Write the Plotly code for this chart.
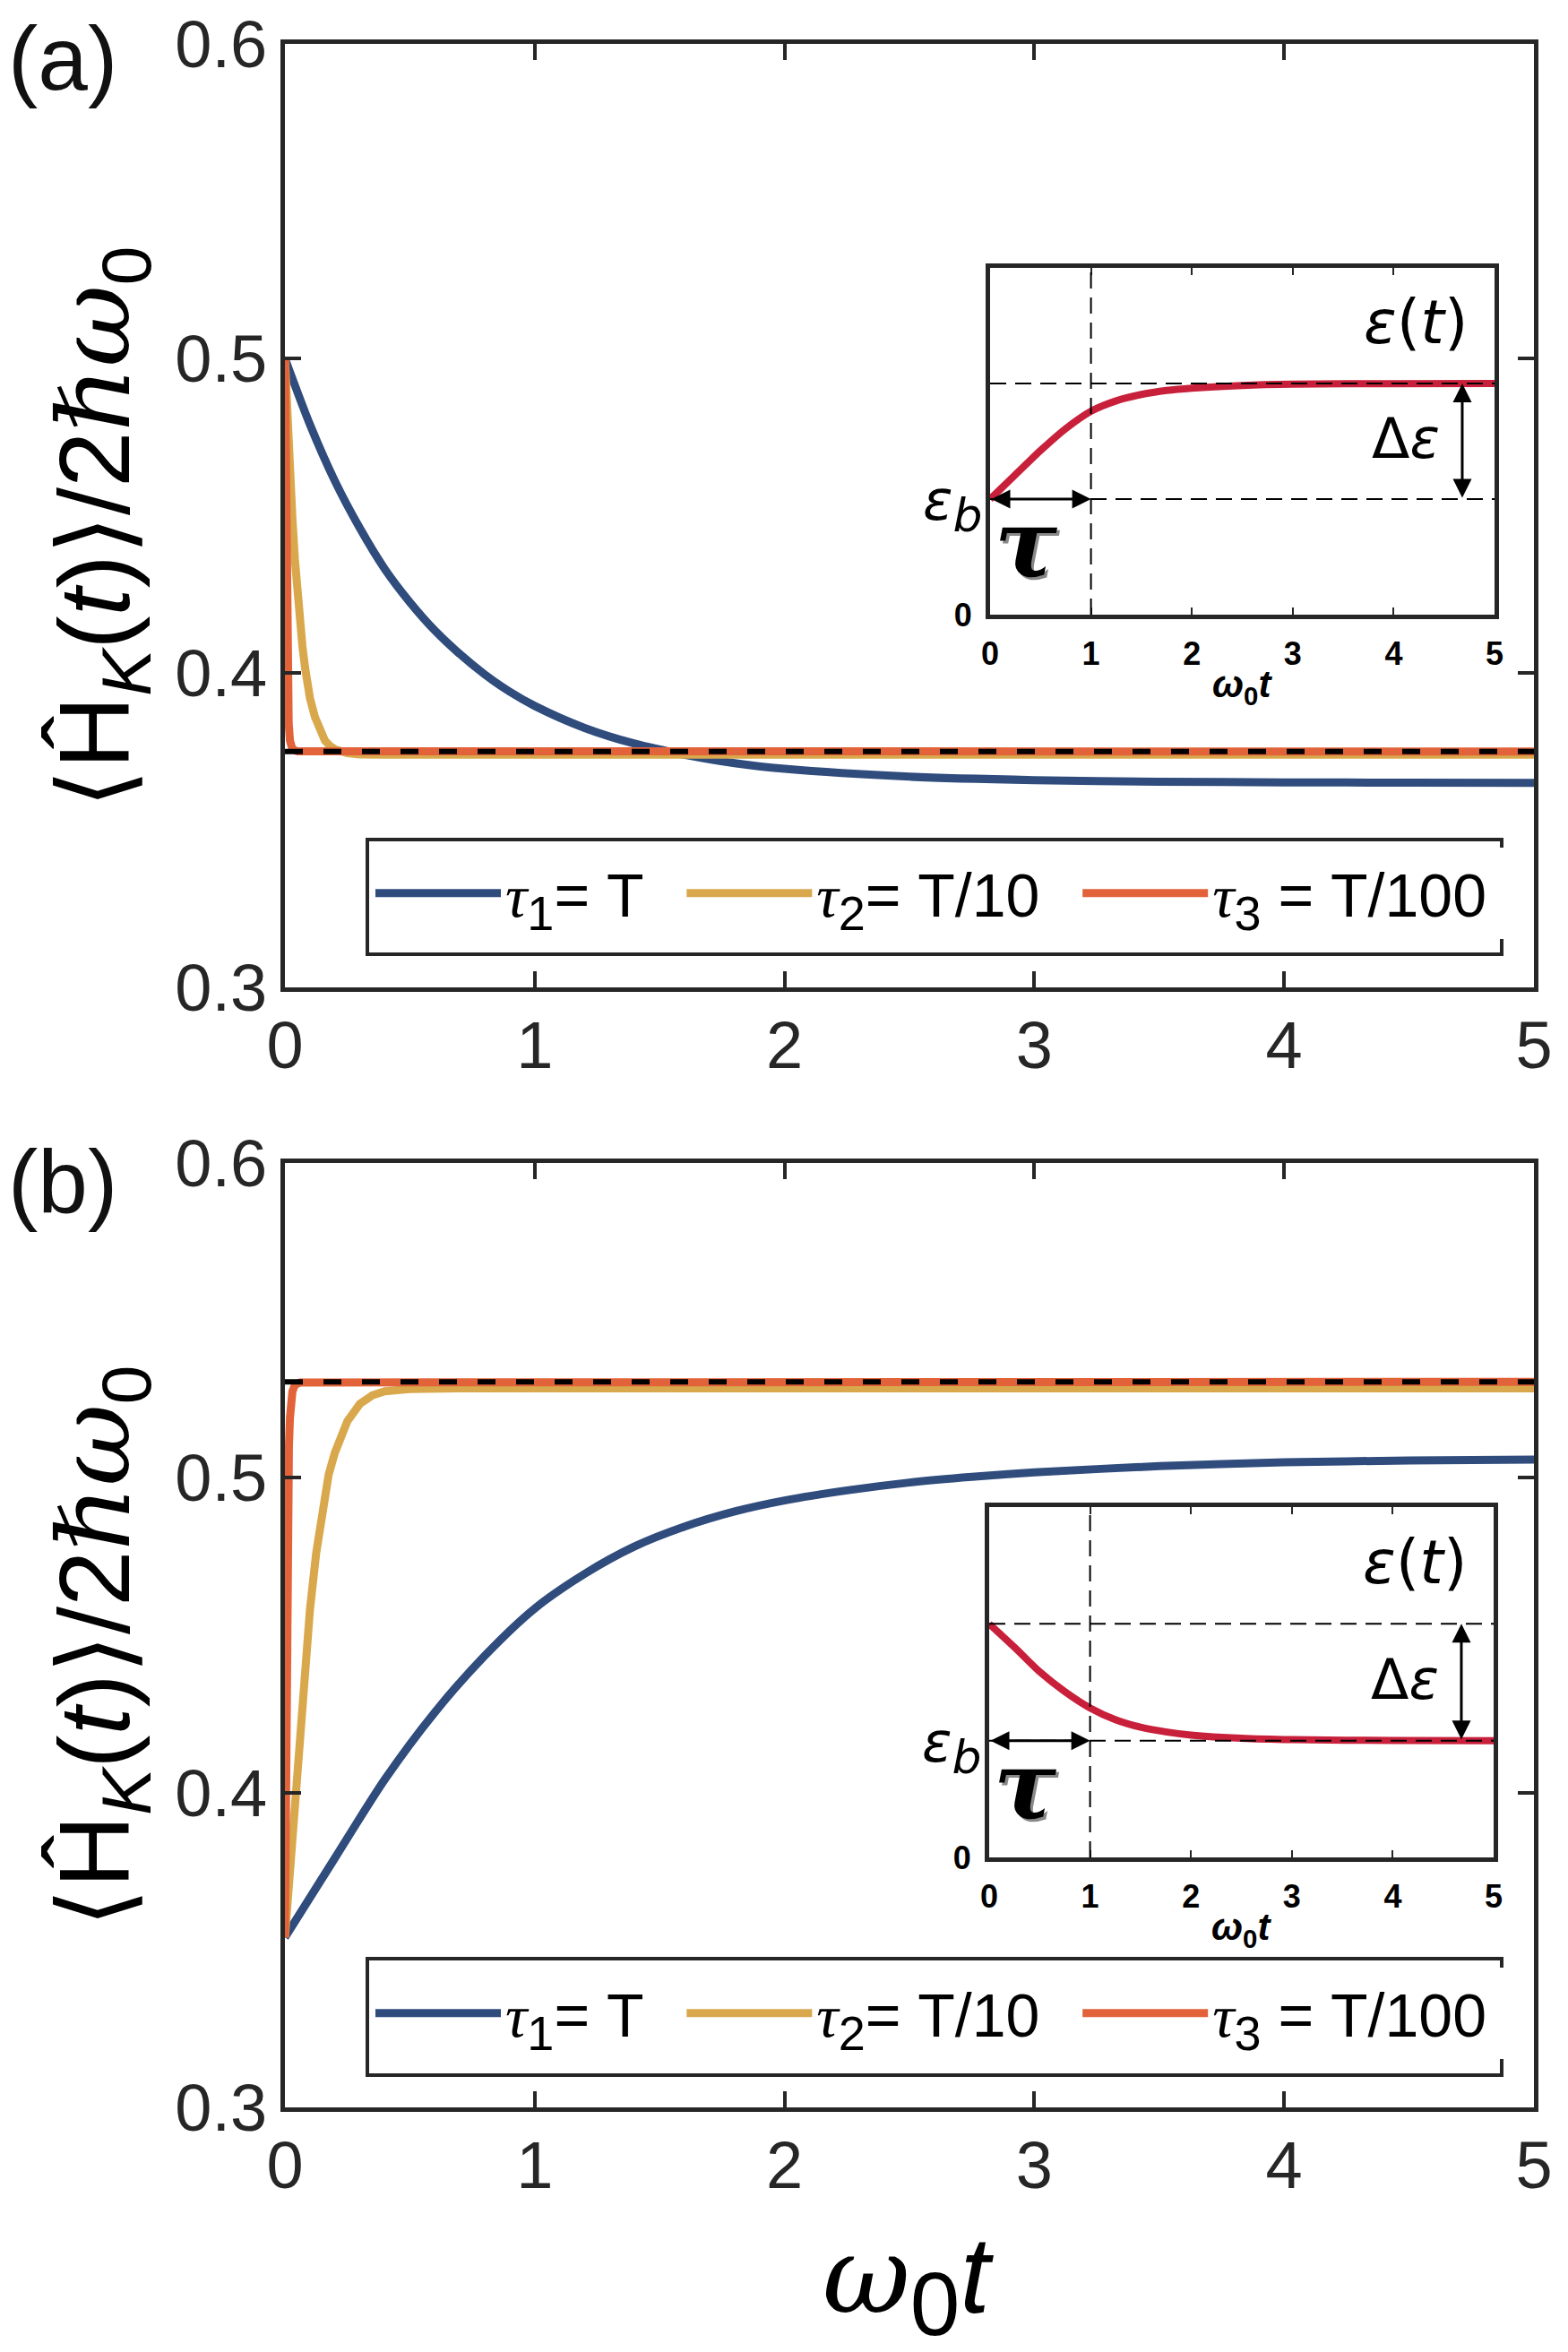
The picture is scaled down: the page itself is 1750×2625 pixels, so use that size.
import plotly.graph_objects as go

# ---------------- data ----------------
x_tick_vals = [0, 1, 2, 3, 4, 5]
y_tick_vals = [0.3, 0.4, 0.5, 0.6]
y_tick_text = ["0.3", "0.4", "0.5", "0.6"]
inset_tick_vals = [0, 1, 2, 3, 4, 5]

tau_labels = ["1", "2", "3"]
tau_values = ["= T", "= T/10", " = T/100"]

# panel (a)
t_a_tau1 = [0, 0.1, 0.2, 0.3, 0.4, 0.5, 0.6, 0.7, 0.8, 0.9, 1.0, 1.2, 1.4, 1.6,
            1.8, 2.0, 2.5, 3.0, 3.5, 4.0, 4.5, 5.0]
e_a_tau1 = [0.500, 0.479, 0.461, 0.446, 0.433, 0.4225, 0.4135, 0.406, 0.3995, 0.394,
            0.3895, 0.3825, 0.3775, 0.374, 0.3713, 0.3695, 0.367, 0.3659, 0.3654,
            0.3652, 0.3651, 0.3650]
t_a_tau2 = [0, 0.005, 0.01, 0.02, 0.03, 0.04, 0.05, 0.06, 0.07, 0.08, 0.09, 0.10,
            0.12, 0.14, 0.16, 0.18, 0.20, 0.25, 0.30, 0.40, 5.0]
e_a_tau2 = [0.500, 0.490, 0.481, 0.464, 0.449, 0.436, 0.425, 0.416, 0.4085, 0.402,
            0.3965, 0.392, 0.386, 0.3815, 0.3785, 0.3768, 0.3757, 0.3745, 0.3741,
            0.3740, 0.3740]
t_a_tau3 = [0, 0.002, 0.004, 0.006, 0.008, 0.010, 0.012, 0.015, 0.02, 0.03, 0.05, 5.0]
e_a_tau3 = [0.500, 0.47, 0.445, 0.425, 0.41, 0.399, 0.391, 0.384, 0.3785, 0.3757,
            0.3751, 0.3750]
sudden_a = 0.375

# panel (b)
t_b_tau1 = [0, 0.2, 0.4, 0.6, 0.8, 1.0, 1.2, 1.4, 1.6, 1.8, 2.0, 2.25, 2.5, 2.75,
            3.0, 3.5, 4.0, 4.5, 5.0]
e_b_tau1 = [0.354, 0.3792, 0.4042, 0.4255, 0.4435, 0.4585, 0.4695, 0.4782, 0.4845,
            0.4893, 0.4928, 0.4960, 0.4985, 0.5003, 0.5017, 0.5037, 0.5049, 0.5055,
            0.5058]
t_b_tau2 = [0, 0.01, 0.02, 0.04, 0.06, 0.08, 0.10, 0.125, 0.15, 0.175, 0.20, 0.25,
            0.30, 0.35, 0.40, 0.50, 0.70, 5.0]
e_b_tau2 = [0.354, 0.365, 0.377, 0.400, 0.422, 0.442, 0.458, 0.476, 0.490, 0.501,
            0.508, 0.518, 0.5235, 0.5262, 0.5275, 0.5282, 0.5284, 0.5284]
t_b_tau3 = [0, 0.002, 0.004, 0.006, 0.008, 0.010, 0.013, 0.016, 0.02, 0.025, 0.03,
            0.04, 0.06, 5.0]
e_b_tau3 = [0.354, 0.385, 0.415, 0.44, 0.462, 0.48, 0.498, 0.51, 0.519, 0.5245,
            0.5275, 0.5295, 0.5303, 0.5305]
sudden_b = 0.5305

# insets: eps(t)
inset_t = [0, 0.25, 0.5, 0.75, 1.0, 1.25, 1.5, 1.75, 2.0, 2.5, 3.0, 4.0, 5.0]
eps_up = [1.0, 1.21, 1.42, 1.61, 1.76, 1.85, 1.905, 1.94, 1.96, 1.983, 1.994, 1.999, 2.0]
eps_down = [2.0, 1.80, 1.59, 1.42, 1.28, 1.18, 1.115, 1.075, 1.048, 1.02, 1.008, 1.002, 1.0]
eps_base = 1.0
eps_top = 2.0
tau_mark = 1.0
delta_arrow_x = 4.68
inset_y_max = 3.0

# ---------------- styling / layout ----------------
W, H = 1750, 2625
PAGE_OFF = 8  # default page margin around the figure div
BLUE, YEL, ORA, RED, AX = "#2F4C7C", "#D9A84C", "#E2633A", "#C8203A", "#262626"
COLORS = [BLUE, YEL, ORA]
SANS = "Liberation Sans, Arial, sans-serif"
NB = "\u00a0"


def px(x):
    return (x - PAGE_OFF) / W


def py(y):
    return 1 - (y - PAGE_OFF) / H


series_names = [
    "<span style='font-family:Liberation Serif'><i>τ</i></span>"
    "<sub><span style='font-size:54px'>%s</span></sub>%s%s" % (s, v, NB * 2)
    for s, v in zip(tau_labels, tau_values)
]

main_x_dom = [px(318), px(1712)]
panels = {
    "a": dict(y_dom=[py(1102), py(49)], top=49),
    "b": dict(y_dom=[py(2352), py(1298)], top=1298),
}
inset_dom = {
    "a": dict(x=[px(1105), px(1668)], y=[py(686), py(299)], bottom=686, left=1105),
    "b": dict(x=[px(1104), px(1667)], y=[py(2073), py(1682)], bottom=2073, left=1104),
}

fig = go.Figure()

panel_data = {
    "a": ([t_a_tau1, t_a_tau2, t_a_tau3], [e_a_tau1, e_a_tau2, e_a_tau3], sudden_a),
    "b": ([t_b_tau1, t_b_tau2, t_b_tau3], [e_b_tau1, e_b_tau2, e_b_tau3], sudden_b),
}
axis_ids = {"a": ("x", "y", "legend"), "b": ("x2", "y2", "legend2")}

for key in ["a", "b"]:
    ts, es, sudden = panel_data[key]
    xa, ya, leg = axis_ids[key]
    for i in range(3):
        fig.add_trace(go.Scatter(
            x=ts[i], y=es[i], mode="lines", name=series_names[i],
            line=dict(color=COLORS[i], width=9,
                      shape="spline" if i == 0 else "linear", smoothing=0.8),
            xaxis=xa, yaxis=ya, legend=leg, showlegend=True))
    fig.add_trace(go.Scatter(
        x=[x_tick_vals[0], x_tick_vals[-1]], y=[sudden, sudden], mode="lines",
        line=dict(color="black", width=6, dash="20px,23px"),
        xaxis=xa, yaxis=ya, showlegend=False))

inset_ids = {"a": ("x3", "y3"), "b": ("x4", "y4")}
inset_curves = {"a": eps_up, "b": eps_down}
for key in ["a", "b"]:
    xa, ya = inset_ids[key]
    fig.add_trace(go.Scatter(
        x=inset_t, y=inset_curves[key], mode="lines",
        line=dict(color=RED, width=8, shape="spline", smoothing=0.8),
        xaxis=xa, yaxis=ya, showlegend=False))

layout = dict(
    width=W, height=H, margin=dict(l=0, r=0, t=0, b=0, pad=0, autoexpand=False),
    paper_bgcolor="white", plot_bgcolor="white",
    font=dict(family=SANS, color=AX),
)


def main_x(dom_anchor):
    return dict(domain=main_x_dom, anchor=dom_anchor, range=[0, 5],
                tickvals=x_tick_vals, ticks="inside", ticklen=18, tickwidth=4,
                tickcolor=AX, showline=True, linewidth=5, linecolor=AX,
                mirror="ticks", showgrid=False, zeroline=False, automargin=False,
                tickfont=dict(size=74, color=AX, family=SANS),
                ticklabelstandoff=-4, ticklabeloverflow="allow")


def main_y(dom, anchor):
    return dict(domain=dom, anchor=anchor, range=[0.3, 0.6],
                tickvals=y_tick_vals, ticktext=y_tick_text, ticks="inside",
                ticklen=18, tickwidth=4, tickcolor=AX, showline=True,
                linewidth=5, linecolor=AX, mirror="ticks", showgrid=False,
                zeroline=False, automargin=False,
                tickfont=dict(size=74, color=AX, family=SANS),
                ticklabelstandoff=0, ticklabeloverflow="allow")


def inset_x(dom, anchor):
    return dict(domain=dom, anchor=anchor, range=[0, 5], tickvals=inset_tick_vals,
                ticktext=["<b>%d</b>" % v for v in inset_tick_vals],
                ticks="inside", ticklen=8, tickwidth=2, tickcolor=AX,
                showline=True, linewidth=5, linecolor=AX, mirror="ticks",
                showgrid=False, zeroline=False, automargin=False,
                tickfont=dict(size=36, color="black",
                              family="Liberation Sans Narrow, Liberation Sans"),
                ticklabelstandoff=8, ticklabeloverflow="allow")


def inset_y(dom, anchor):
    return dict(domain=dom, anchor=anchor, range=[0, inset_y_max], tickvals=[0],
                ticktext=["<b>0</b>"], ticks="", showline=True, linewidth=5,
                linecolor=AX, mirror=True, showgrid=False, zeroline=False,
                automargin=False,
                tickfont=dict(size=36, color="black",
                              family="Liberation Sans Narrow, Liberation Sans"),
                ticklabelstandoff=8, ticklabeloverflow="allow")


layout["xaxis"] = main_x("y")
layout["yaxis"] = main_y(panels["a"]["y_dom"], "x")
layout["xaxis2"] = main_x("y2")
layout["yaxis2"] = main_y(panels["b"]["y_dom"], "x2")
layout["xaxis3"] = inset_x(inset_dom["a"]["x"], "y3")
layout["yaxis3"] = inset_y(inset_dom["a"]["y"], "x3")
layout["xaxis4"] = inset_x(inset_dom["b"]["x"], "y4")
layout["yaxis4"] = inset_y(inset_dom["b"]["y"], "x4")

legend_boxes = {"a": (937, 1065), "b": (2186, 2316)}
for key, name in [("a", "legend"), ("b", "legend2")]:
    y0, y1 = legend_boxes[key]
    layout[name] = dict(
        x=px(414), y=py((y0 + y1) / 2 - 4), xanchor="left", yanchor="middle",
        orientation="h", bgcolor="white", borderwidth=0,
        font=dict(size=68, family=SANS, color="black"),
        itemwidth=140, traceorder="normal")

fig.update_layout(**layout)

shapes = []
for key in ["a", "b"]:
    y0, y1 = legend_boxes[key]
    shapes.append(dict(type="rect", xref="paper", yref="paper",
                       x0=px(410), x1=px(1676), y0=py(y1), y1=py(y0),
                       line=dict(color=AX, width=4), fillcolor="rgba(0,0,0,0)",
                       layer="above"))
for key in ["a", "b"]:
    xa, ya = inset_ids[key]
    dash = dict(color="black", width=2, dash="18px,10px")
    for lev in (eps_base, eps_top):
        shapes.append(dict(type="line", xref=xa, yref=ya, x0=0, x1=5, y0=lev, y1=lev,
                           line=dash, layer="above"))
    shapes.append(dict(type="line", xref=xa, yref=ya, x0=tau_mark, x1=tau_mark,
                       y0=0, y1=inset_y_max, line=dash, layer="above"))
fig.update_layout(shapes=shapes)

ann = []
# panel labels
for lab, ytop in [("(a)", 8), ("(b)", 1262)]:
    ann.append(dict(text=lab, x=px(8), y=py(ytop), xref="paper", yref="paper",
                    xanchor="left", yanchor="top", showarrow=False, borderpad=0,
                    font=dict(size=100, family=SANS, color="#111111")))
# y-axis titles
ylab = ("⟨Ĥ<sub><i>K</i></sub>(<i>t</i>)⟩/2"
        "<span style='font-family:DejaVu Serif'><i>ℏω</i></span><sub>0</sub>")
for key in ["a", "b"]:
    ann.append(dict(text=ylab, x=px(112), y=py(panels[key]["top"] + 540),
                    xref="paper", yref="paper", xanchor="center", yanchor="middle",
                    textangle=-90, showarrow=False,
                    font=dict(size=112, family=SANS, color="black")))
# x-axis title
ann.append(dict(text="<span style='font-family:DejaVu Serif'><i>ω</i></span>"
                     "<sub><span style='font-size:100px'>0</span></sub><i>t</i>",
                x=px(1013), y=py(2548), xref="paper", yref="paper",
                xanchor="center", yanchor="middle", showarrow=False, borderpad=0,
                font=dict(size=120, family=SANS, color="black")))

for key in ["a", "b"]:
    xa, ya = inset_ids[key]
    bottom = inset_dom[key]["bottom"]
    left = inset_dom[key]["left"]
    # inset x title
    ann.append(dict(text="<b><i>ω</i><sub>0</sub><i>t</i></b>", x=2.5, xref=xa,
                    y=py(bottom + 80), yref="paper", showarrow=False,
                    xanchor="center", yanchor="middle",
                    font=dict(size=42, family=SANS, color="black")))
    # eps(t)
    ann.append(dict(text="<i>ε</i>(<i>t</i>)", x=4.22, y=2.53, xref=xa, yref=ya,
                    showarrow=False, xanchor="center", yanchor="middle",
                    font=dict(size=68, family="DejaVu Sans", color="black")))
    # Delta eps
    ann.append(dict(text="Δ<i>ε</i>", x=4.12, y=1.52, xref=xa, yref=ya,
                    showarrow=False, xanchor="center", yanchor="middle",
                    font=dict(size=62, family="DejaVu Sans", color="black")))
    # eps_b (left of the inset axis -> paper x)
    ann.append(dict(text="<i>ε<sub><span style='font-size:52px'>b</span></sub></i>",
                    x=px(left - 6), y=0.95, xref="paper", yref=ya,
                    showarrow=False, xanchor="right", yanchor="middle",
                    font=dict(size=62, family="DejaVu Sans", color="black")))
    # tau (with shadow)
    ann.append(dict(text="<b><i>τ</i></b>", x=0.36, y=0.62, xref=xa, yref=ya,
                    xshift=3, yshift=-3, showarrow=False, xanchor="center",
                    yanchor="middle",
                    font=dict(size=104, family="DejaVu Serif", color="#888888")))
    ann.append(dict(text="<b><i>τ</i></b>", x=0.36, y=0.62, xref=xa, yref=ya,
                    showarrow=False, xanchor="center", yanchor="middle",
                    font=dict(size=104, family="DejaVu Serif", color="black")))
    # tau arrow
    ann.append(dict(text="", x=tau_mark, y=eps_base, ax=0, ay=eps_base,
                    xref=xa, yref=ya, axref=xa, ayref=ya, showarrow=True,
                    arrowhead=2, startarrowhead=2, arrowside="end+start",
                    arrowsize=1.4, startarrowsize=1.4, arrowwidth=3,
                    arrowcolor="black", standoff=0, startstandoff=0))
    # delta eps arrow
    ann.append(dict(text="", x=delta_arrow_x, y=eps_top, ax=delta_arrow_x,
                    ay=eps_base, xref=xa, yref=ya, axref=xa, ayref=ya,
                    showarrow=True, arrowhead=2, startarrowhead=2,
                    arrowside="end+start", arrowsize=1.4, startarrowsize=1.4,
                    arrowwidth=3, arrowcolor="black", standoff=0,
                    startstandoff=0))

fig.update_layout(annotations=ann)
fig.write_html("out.html")
